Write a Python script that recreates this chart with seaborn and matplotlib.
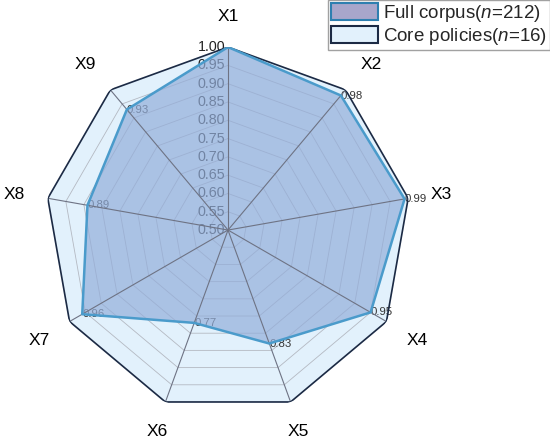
import numpy as np
import matplotlib
matplotlib.use("Agg")
import matplotlib.pyplot as plt
from matplotlib.patches import Patch
import seaborn as sns

# =========================
# DATA
# =========================
axis_labels = ["X1", "X2", "X3", "X4", "X5", "X6", "X7", "X8", "X9"]
full_corpus = [1.00, 0.98, 0.99, 0.95, 0.83, 0.77, 0.96, 0.89, 0.93]
core_policies = [1.00, 1.00, 1.00, 1.00, 1.00, 1.00, 1.00, 1.00, 1.00]
r_ticks = [0.50, 0.55, 0.60, 0.65, 0.70, 0.75, 0.80, 0.85, 0.90, 0.95, 1.00]
series_names = ["Full corpus($n$=212)", "Core policies($n$=16)"]

# =========================
# SETTINGS
# =========================
sns.set_theme(style="white")
plt.rcParams["font.family"] = ["Liberation Sans", "DejaVu Sans"]
plt.rcParams["mathtext.fontset"] = "custom"
plt.rcParams["mathtext.it"] = "Liberation Sans:italic"
plt.rcParams["mathtext.rm"] = "Liberation Sans"

CORE_FILL = "#E2F1FC"
CORE_EDGE = "#1C2A44"
FULL_FILL = "#93AEDA"
FULL_EDGE = "#4A9BCB"
LABEL_R = 1.063

n = len(axis_labels)
theta = np.linspace(0, 2 * np.pi, n, endpoint=False)
theta_c = np.append(theta, theta[0] + 2 * np.pi)
full_c = np.append(full_corpus, full_corpus[0])
core_c = np.append(core_policies, core_policies[0])

fig = plt.figure(figsize=(5.5, 4.43), dpi=100)
ax = fig.add_axes([0.0818, 0.0677, 0.6655, 0.826], projection="polar")
ax.set_theta_offset(np.pi / 2)
ax.set_theta_direction(-1)
ax.set_ylim(r_ticks[0], r_ticks[-1])
ax.grid(False)
ax.spines["polar"].set_visible(False)
ax.set_yticks([])
ax.set_xticks([])
ax.set_facecolor("none")

# core polygon fill (bottom)
ax.fill(theta_c, core_c, color=CORE_FILL, zorder=1)

# polygon grid
for lvl in r_ticks[1:-1]:
    ax.plot(theta_c, [lvl] * len(theta_c), color="#B4B9C2", lw=0.6, zorder=2)

# tick labels along X1 axis
for lvl in r_ticks:
    ax.annotate(f"{lvl:.2f}", xy=(0, lvl), xytext=(-2, 0), textcoords="offset points",
                ha="right", va="center", fontsize=10.3, color="#222222", zorder=2)

# value labels
for t, v in zip(theta, full_corpus):
    if v < 1:
        ax.annotate(f"{v:.2f}", xy=(t, v), xytext=(0, 0), textcoords="offset points",
                    ha="left", va="center", fontsize=8.2, color="#333333", zorder=2)

# full corpus fill
ax.fill(theta_c, full_c, color=FULL_FILL, alpha=0.7, lw=0, zorder=3)

# spokes
for t in theta:
    ax.plot([t, t], [r_ticks[0], r_ticks[-1]], color="#6E7384", lw=0.8, zorder=4)

# outlines
sns.lineplot(x=theta_c, y=core_c, ax=ax, sort=False, color=CORE_EDGE, lw=1.2, zorder=5)
sns.lineplot(x=theta_c, y=full_c, ax=ax, sort=False, color=FULL_EDGE, lw=1.8, zorder=6)
ax.set_xlabel("")
ax.set_ylabel("")

# axis labels, aligned away from the centre
for t, lab in zip(theta, axis_labels):
    vis = np.pi / 2 - t
    c, s = np.cos(vis), np.sin(vis)
    ha = "left" if c > 0.4 else ("right" if c < -0.4 else "center")
    va = "bottom" if s > 0.3 else ("top" if s < -0.3 else "center")
    ax.text(t, LABEL_R, lab, ha=ha, va=va, fontsize=12.5, color="black", clip_on=False)

handles = [
    Patch(facecolor="#A8A6CB", edgecolor="#2E7FB0", lw=1.5, label=series_names[0]),
    Patch(facecolor=CORE_FILL, edgecolor=CORE_EDGE, lw=1.5, label=series_names[1]),
]
leg = fig.legend(handles=handles, loc="upper right", bbox_to_anchor=(1.0, 1.0),
                 fontsize=13.5, frameon=True, fancybox=False, edgecolor="#8A8A8A",
                 borderpad=0.15, labelspacing=0.1, handlelength=2.5, handleheight=1.0,
                 handletextpad=0.3, borderaxespad=0.0)
leg.get_frame().set_linewidth(1.0)

fig.savefig("out.png", dpi=100)
